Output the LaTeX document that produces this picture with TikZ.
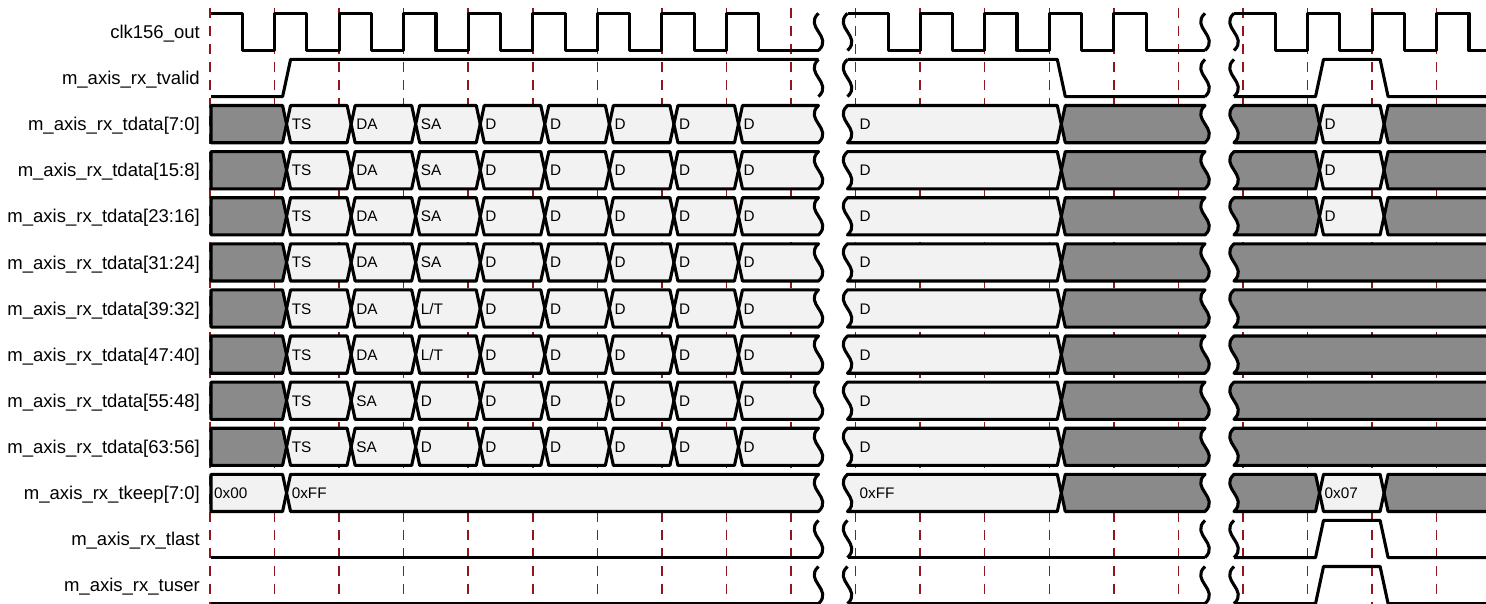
\documentclass[tikz,border=0pt]{standalone}
\usepackage{fontspec}
\setmainfont{Liberation Sans}
\definecolor{busdark}{RGB}{138,138,138}
\definecolor{buslight}{RGB}{242,242,242}
\definecolor{edgered}{RGB}{140,24,28}

\newcount\segno
% edges of a bus segment (left ones run bottom to top, right ones top to bottom)
\newcommand{\edgeLs}[1]{(#1,\yB) -- (#1,\yT)}
\newcommand{\edgeLx}[1]{({#1+4},\yB) -- (#1,\yM) -- ({#1+4},\yT)}
\newcommand{\edgeLw}[1]{(#1,\yB) .. controls ({#1+15},{\yT+23}) and ({#1-15},{\yT+14}) .. (#1,\yT)}
\newcommand{\edgeRx}[1]{({#1-4},\yT) -- (#1,\yM) -- ({#1-4},\yB)}
\newcommand{\edgeRw}[1]{(#1,\yT) .. controls ({#1-15},{\yT+14}) and ({#1+15},{\yT+23}) .. (#1,\yB)}
\newcommand{\edgeRo}[1]{(#1,\yT) -- (#1,\yB)}
% [text offset]{row}{from}{to}{fill}{left edge}{right edge}{text}
\newcommand{\busseg}[8][5]{%
  \pgfmathsetmacro{\yT}{13.3+46.1*#2}%
  \pgfmathsetmacro{\yB}{\yT+37.2}%
  \pgfmathsetmacro{\yM}{\yT+18.6}%
  \filldraw[bus,fill=#5] #6{#3} -- #7{#4} -- cycle;
  \def\segtxt{#8}%
  \ifx\segtxt\empty\else
    \global\advance\segno by 1
    \node[btxt] (seg\the\segno) at ({#3+#1},{\yM+5.5}) {#8};
  \fi
}

\begin{document}
\begin{tikzpicture}[x=1pt,y=-1pt,
  lbl/.style={anchor=base east,inner sep=0pt,font=\fontsize{18.5}{22}\selectfont},
  btxt/.style={anchor=base west,inner sep=0pt,font=\fontsize{15.3}{18}\selectfont},
  edgeline/.style={draw=edgered,line width=1.5pt,dash pattern=on 10pt off 8pt},
  sig/.style={draw=black,line width=3.1pt,line join=round},
  bus/.style={sig}]
  \fill[white] (0,0) rectangle (1486,603);
  \useasboundingbox (0,0) rectangle (1486,603);

  % clock edges
  \foreach \k in {0,...,19}
    \draw[edgeline] ({210+64.56*\k},8) -- ++(0,598);

  % signal names
  \foreach \r/\name in {0/clk156\_out, 1/m\_axis\_rx\_tvalid,
      2/{m\_axis\_rx\_tdata[7:0]}, 3/{m\_axis\_rx\_tdata[15:8]},
      4/{m\_axis\_rx\_tdata[23:16]}, 5/{m\_axis\_rx\_tdata[31:24]},
      6/{m\_axis\_rx\_tdata[39:32]}, 7/{m\_axis\_rx\_tdata[47:40]},
      8/{m\_axis\_rx\_tdata[55:48]}, 9/{m\_axis\_rx\_tdata[63:56]},
      10/{m\_axis\_rx\_tkeep[7:0]}, 11/m\_axis\_rx\_tlast, 12/m\_axis\_rx\_tuser}
    \node[lbl] (sig\r) at (200,{38.5+46.1*\r}) {\name};

  % clk156_out
  \draw[sig] (211,13.3) -- (242.3,13.3) -- (242.3,50.5)
    \foreach \k in {1,...,8}{ -- ({210+64.56*\k},50.5) -- ++(0,-37.2) -- ++(32.3,0) -- ++(0,37.2)}
    -- (818.5,50.5);
  \draw[sig] (847.5,13.3) -- (888.3,13.3) -- (888.3,50.5)
    \foreach \k in {11,...,14}{ -- ({210+64.56*\k},50.5) -- ++(0,-37.2) -- ++(32.3,0) -- ++(0,37.2)}
    -- (1205,50.5);
  \draw[sig] (1234,13.3) -- (1275.3,13.3) -- (1275.3,50.5)
    \foreach \k in {17,...,19}{ -- ({210+64.56*\k},50.5) -- ++(0,-37.2) -- ++(32.3,0) -- ++(0,37.2)}
    -- (1492,50.5);

  % tvalid
  \draw[sig] (211,96.6) -- (282.6,96.6) -- (290.6,59.4) -- (818.5,59.4);
  \draw[sig] (847.5,59.4) -- (1057.3,59.4) -- (1065.3,96.6) -- (1205,96.6);
  \draw[sig] (1234,96.6) -- (1315.5,96.6) -- (1323.5,59.4) -- (1380.1,59.4) -- (1388.1,96.6) -- (1492,96.6);

  % tlast, tuser
  \foreach \r in {11,12}{
    \pgfmathsetmacro{\yT}{13.3+46.1*\r}
    \pgfmathsetmacro{\yB}{\yT+37.2}
    \draw[sig] (211,\yB) -- (818.5,\yB);
    \draw[sig] (847.5,\yB) -- (1205,\yB);
    \draw[sig] (1234,\yB) -- (1315.5,\yB) -- (1323.5,\yT) -- (1380.1,\yT) -- (1388.1,\yB) -- (1492,\yB);
  }

  % breaks on the single lines
  \foreach \r in {0,1,11,12}{
    \foreach \xw in {818.5,847.5,1205,1234}{
      \pgfmathsetmacro{\yT}{13.3+46.1*\r}
      \pgfmathsetmacro{\yB}{\yT+37.2}
      \draw[sig] \edgeRw{\xw};
    }
  }

  % tdata bytes
  \foreach \r/\lst in {2/{TS,DA,SA,D,D,D,D}, 3/{TS,DA,SA,D,D,D,D},
      4/{TS,DA,SA,D,D,D,D}, 5/{TS,DA,SA,D,D,D,D},
      6/{TS,DA,{L/T},D,D,D,D}, 7/{TS,DA,{L/T},D,D,D,D},
      8/{TS,SA,D,D,D,D,D}, 9/{TS,SA,D,D,D,D,D}}{
    \busseg{\r}{211}{286.56}{busdark}{\edgeLs}{\edgeRx}{}
    \foreach \txt [count=\k] in \lst {
      \pgfmathsetmacro{\xa}{222+64.56*\k}
      \pgfmathsetmacro{\xb}{\xa+64.56}
      \busseg{\r}{\xa}{\xb}{buslight}{\edgeLx}{\edgeRx}{\txt}
    }
    \busseg{\r}{738.48}{818.5}{buslight}{\edgeLx}{\edgeRw}{D}
    \busseg[12]{\r}{847.5}{1061.28}{buslight}{\edgeLw}{\edgeRx}{D}
    \busseg{\r}{1061.28}{1205}{busdark}{\edgeLx}{\edgeRw}{}
  }
  \foreach \r in {2,3,4}{
    \busseg{\r}{1234}{1319.52}{busdark}{\edgeLw}{\edgeRx}{}
    \busseg{\r}{1319.52}{1384.08}{buslight}{\edgeLx}{\edgeRx}{D}
    \busseg{\r}{1384.08}{1492}{busdark}{\edgeLx}{\edgeRo}{}
  }
  \foreach \r in {5,...,9}{
    \busseg{\r}{1234}{1492}{busdark}{\edgeLw}{\edgeRo}{}
  }

  % tkeep
  \busseg[3]{10}{211}{286.56}{buslight}{\edgeLs}{\edgeRx}{0x00}
  \busseg{10}{286.56}{818.5}{buslight}{\edgeLx}{\edgeRw}{0xFF}
  \busseg[12]{10}{847.5}{1061.28}{buslight}{\edgeLw}{\edgeRx}{0xFF}
  \busseg{10}{1061.28}{1205}{busdark}{\edgeLx}{\edgeRw}{}
  \busseg{10}{1234}{1319.52}{busdark}{\edgeLw}{\edgeRx}{}
  \busseg{10}{1319.52}{1384.08}{buslight}{\edgeLx}{\edgeRx}{0x07}
  \busseg{10}{1384.08}{1492}{busdark}{\edgeLx}{\edgeRo}{}
\end{tikzpicture}
\end{document}
